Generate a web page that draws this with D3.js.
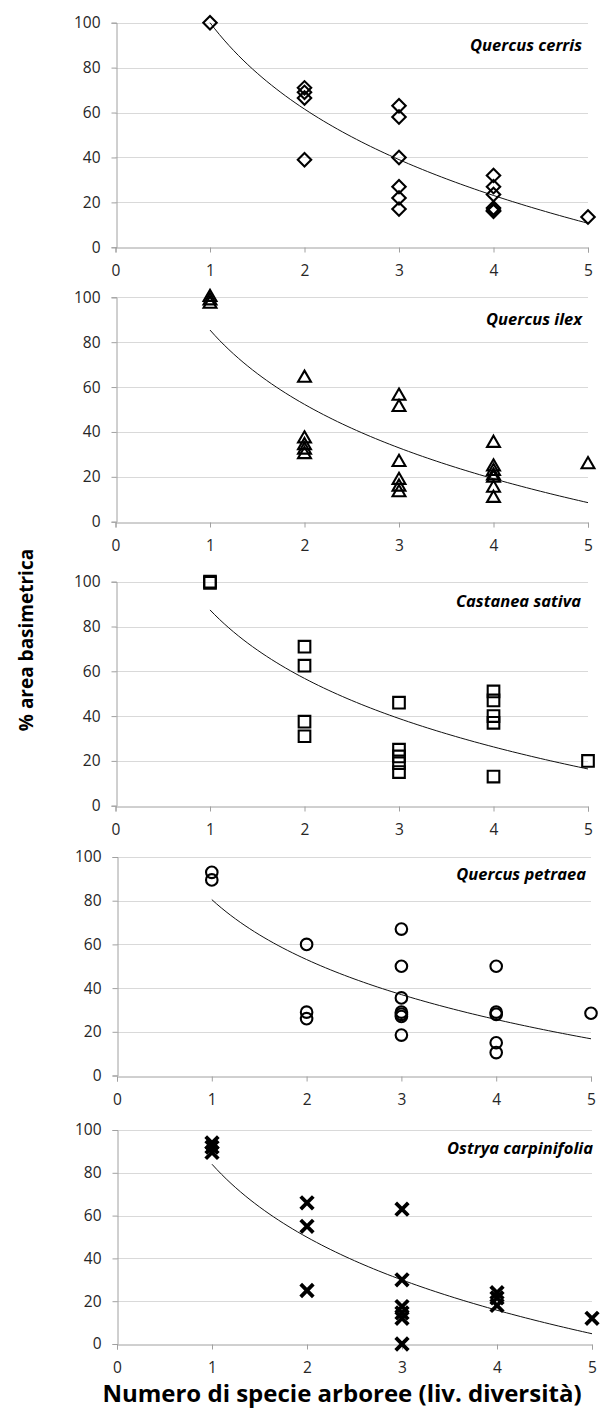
<!DOCTYPE html>
<html>
<head>
<meta charset="utf-8">
<script src="https://cdn.jsdelivr.net/npm/d3@7"></script>
<style>
  body { margin: 0; background: #fff; }
  svg { display: block; font-family: "Open Sans", "Noto Sans", sans-serif; }
</style>
</head>
<body>
<div id="chart"></div>
<script>
// species shown in the five panels, top to bottom
const species = ['Quercus cerris', 'Quercus ilex', 'Castanea sativa', 'Quercus petraea', 'Ostrya carpinifolia'];
const xTicks = [0, 1, 2, 3, 4, 5];
const yTicks = [0, 20, 40, 60, 80, 100];

// [number of tree species, % basal area]
const cerrisPts = [[1, 100], [2, 71], [2, 69], [2, 66.5], [2, 39], [3, 63], [3, 58], [3, 40], [3, 27], [3, 22], [3, 17],
  [4, 32], [4, 27], [4, 23.5], [4, 17.5], [4, 16.5], [4, 16], [5, 13.5]];
const ilexPts = [[1, 100], [1, 98.5], [1, 97], [2, 64], [2, 37], [2, 34], [2, 32], [2, 30], [3, 56], [3, 51], [3, 26.5],
  [3, 18.5], [3, 15.5], [3, 13], [4, 35], [4, 24.5], [4, 22.5], [4, 20.5], [4, 19.5], [4, 15], [4, 10.5], [5, 25.5]];
const castaneaPts = [[1, 100], [1, 99.5], [2, 71], [2, 62.5], [2, 37.5], [2, 31], [3, 46], [3, 25], [3, 22], [3, 19],
  [3, 15], [4, 51], [4, 47], [4, 40], [4, 37], [4, 13], [5, 20]];
const petraeaPts = [[1, 93], [1, 89.5], [2, 60], [2, 29], [2, 26], [3, 67], [3, 50], [3, 35.5], [3, 29], [3, 28], [3, 27],
  [3, 18.5], [4, 50], [4, 29], [4, 28], [4, 15], [4, 10.5], [5, 28.5]];
const ostryaPts = [[1, 94], [1, 92], [1, 89.5], [2, 66], [2, 55], [2, 25], [3, 63], [3, 30], [3, 17.5], [3, 14.5],
  [3, 12], [3, 0], [4, 24], [4, 21.5], [4, 18], [5, 12]];

// logarithmic trend lines: value at x = 1 and at x = 5
const trendAtOne = [100, 85.4, 87.4, 80.5, 84];
const trendAtFive = [10.7, 8.5, 16.4, 16.8, 4.8];

const allPts = [cerrisPts, ilexPts, castaneaPts, petraeaPts, ostryaPts];
const markers = ['diamond', 'triangle', 'square', 'circle', 'cross'];

const width = 616;
const height = 1410;
// pixel frame of each panel (the source figure is stitched, panels differ a bit)
const frames = [
  {top: 22.7, bottom: 247.3, left: 115.5, right: 588, labelDy: 23, labelDx: -6},
  {top: 297.3, bottom: 521.7, left: 115.5, right: 588, labelDy: 22, labelDx: -6},
  {top: 581.7, bottom: 805.7, left: 115.5, right: 588, labelDy: 20, labelDx: -7},
  {top: 857, bottom: 1075.5, left: 117, right: 591, labelDy: 17, labelDx: -5},
  {top: 1130, bottom: 1344, left: 117, right: 592, labelDy: 18, labelDx: 1}
];

const svg = d3.select('#chart').append('svg')
  .attr('width', width)
  .attr('height', height);

function markerPath(kind) {
  if (kind === 'diamond') return d3.symbol(d3.symbolSquare, 90)();
  if (kind === 'triangle') return d3.symbol(d3.symbolTriangle, 72)();
  if (kind === 'square') return d3.symbol(d3.symbolSquare, 135)();
  if (kind === 'circle') return d3.symbol(d3.symbolCircle, 105)();
  return d3.symbol(d3.symbolX, 105)();
}

species.forEach((name, i) => {
  const f = frames[i];
  const x = d3.scaleLinear().domain([0, 5]).range([f.left, f.right]);
  const y = d3.scaleLinear().domain([0, 100]).range([f.bottom, f.top]);
  const g = svg.append('g');

  // gridlines
  g.selectAll('.grid')
    .data(yTicks.filter(t => t > 0))
    .enter().append('line')
    .attr('x1', f.left).attr('x2', f.right)
    .attr('y1', d => Math.round(y(d)) + 0.5).attr('y2', d => Math.round(y(d)) + 0.5)
    .attr('stroke', '#d9d9d9')
    .attr('stroke-width', 1);

  const yAxis = g.append('g')
    .attr('transform', `translate(${Math.round(f.left) + 0.5},0)`)
    .call(d3.axisLeft(y).tickValues(yTicks).tickSize(5).tickPadding(11));
  const xAxis = g.append('g')
    .attr('transform', `translate(0,${Math.round(f.bottom) + 0.5})`)
    .call(d3.axisBottom(x).tickValues(xTicks).tickFormat(d3.format('d')).tickSize(5).tickPadding(12));

  [yAxis, xAxis].forEach(ax => {
    ax.select('.domain').attr('stroke', '#a0a0a0');
    ax.selectAll('.tick line').attr('stroke', '#a0a0a0');
    ax.selectAll('.tick text')
      .attr('fill', '#262626')
      .style('font-size', '15.5px')
      .style('font-family', '"Open Sans", sans-serif');
  });

  // trend line
  const a = trendAtOne[i];
  const b = (trendAtFive[i] - trendAtOne[i]) / Math.log(5);
  const trendXs = d3.range(1, 5.001, 0.05);
  g.append('path')
    .datum(trendXs)
    .attr('fill', 'none')
    .attr('stroke', '#111')
    .attr('stroke-width', 1)
    .attr('d', d3.line().x(d => x(d)).y(d => y(a + b * Math.log(d))));

  // points
  const kind = markers[i];
  g.selectAll('.pt')
    .data(allPts[i])
    .enter().append('path')
    .attr('d', markerPath(kind))
    .attr('transform', d => `translate(${x(d[0])},${y(d[1])})` + (kind === 'diamond' ? ' rotate(45)' : ''))
    .attr('fill', 'none')
    .attr('stroke', '#000')
    .attr('stroke-width', kind === 'cross' ? 3.8 : 2.1);

  g.append('text')
    .attr('x', f.right + f.labelDx)
    .attr('y', f.top + f.labelDy)
    .attr('dy', '0.35em')
    .attr('text-anchor', 'end')
    .style('font-size', '16.5px')
    .style('font-weight', 'bold')
    .style('font-style', 'italic')
    .text(name);
});

svg.append('text')
  .attr('transform', 'translate(26,640) rotate(-90)')
  .attr('text-anchor', 'middle')
  .attr('dy', '0.35em')
  .style('font-size', '19px')
  .style('font-weight', 'bold')
  .text('% area basimetrica');

svg.append('text')
  .attr('x', 342)
  .attr('y', 1402)
  .attr('text-anchor', 'middle')
  .style('font-size', '24px')
  .style('font-weight', 'bold')
  .text('Numero di specie arboree (liv. diversità)');
</script>
</body>
</html>
